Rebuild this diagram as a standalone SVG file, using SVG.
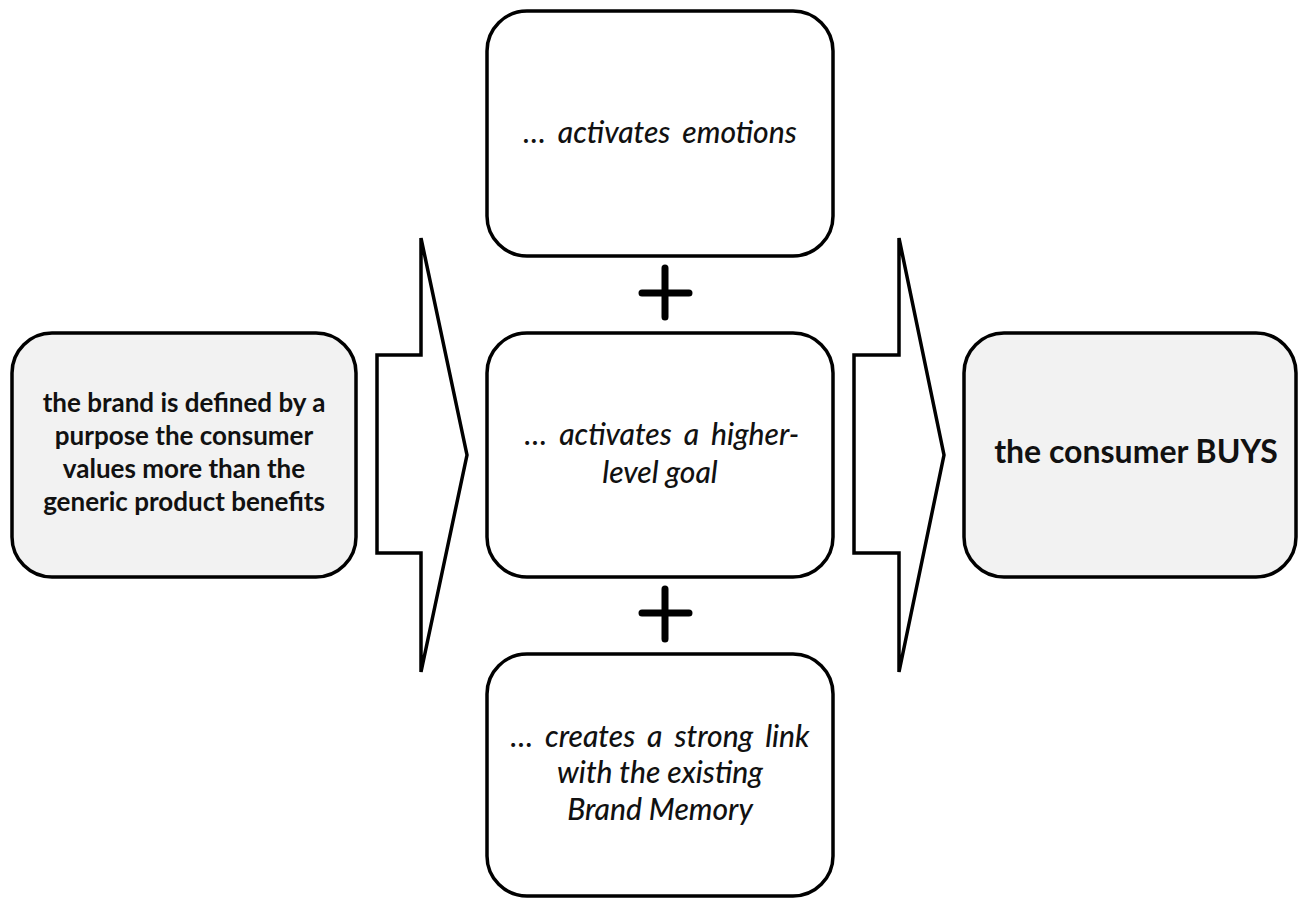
<svg xmlns="http://www.w3.org/2000/svg" width="1298" height="898" viewBox="0 0 1298 898">
<style>
.box{stroke:#000;stroke-width:3.5;}
.grey{fill:#f2f2f2;}
.white{fill:#fff;}
.arrow{fill:#fff;stroke:#000;stroke-width:3.5;stroke-linejoin:miter;}
.plus{stroke:#000;stroke-width:7;stroke-linecap:round;}
.tb{font-family:Lato,"Open Sans","Liberation Sans",sans-serif;font-weight:bold;fill:#111;text-anchor:middle;}
.ti{font-family:Lato,"Open Sans","Liberation Sans",sans-serif;font-style:italic;font-weight:500;fill:#111;text-anchor:middle;font-size:30px;}
.ws{word-spacing:5px;}
</style>
<rect width="1298" height="898" fill="#fff"/>
<g id="connectors">
<path class="arrow" d="M377,355 H421 V238 L467,455 L421,672 V553 H377 Z"/>
<path class="arrow" d="M854,355 H899 V238 L944,455 L899,672 V553 H854 Z"/>
<path class="plus" d="M665,268 V317 M642,293 H689"/>
<path class="plus" d="M665,589 V639 M642,613 H689"/>
</g>
<g id="node-purpose">
<rect class="box grey" x="12" y="333" width="344" height="244" rx="40"/>
<text class="tb" font-size="26" x="184" y="412">the brand is defined by a</text>
<text class="tb" font-size="26" x="184" y="445">purpose the consumer</text>
<text class="tb" font-size="26" x="184" y="478">values more than the</text>
<text class="tb" font-size="26" x="184" y="511">generic product benefits</text>
</g>
<g id="node-emotions">
<rect class="box white" x="487" y="11" width="346" height="245" rx="40"/>
<text class="ti ws" x="660" y="143">… activates emotions</text>
</g>
<g id="node-goal">
<rect class="box white" x="487" y="333" width="346" height="244" rx="40"/>
<text class="ti ws" x="662" y="445">… activates a higher-</text>
<text class="ti" x="660" y="483">level goal</text>
</g>
<g id="node-memory">
<rect class="box white" x="487" y="654" width="346" height="242" rx="40"/>
<text class="ti ws" x="660" y="747">… creates a strong link</text>
<text class="ti" x="660" y="783">with the existing</text>
<text class="ti" x="660" y="820">Brand Memory</text>
</g>
<g id="node-buys">
<rect class="box grey" x="964" y="333" width="332" height="244" rx="40"/>
<text class="tb" font-size="32" x="1136" y="463">the consumer BUYS</text>
</g>
</svg>
